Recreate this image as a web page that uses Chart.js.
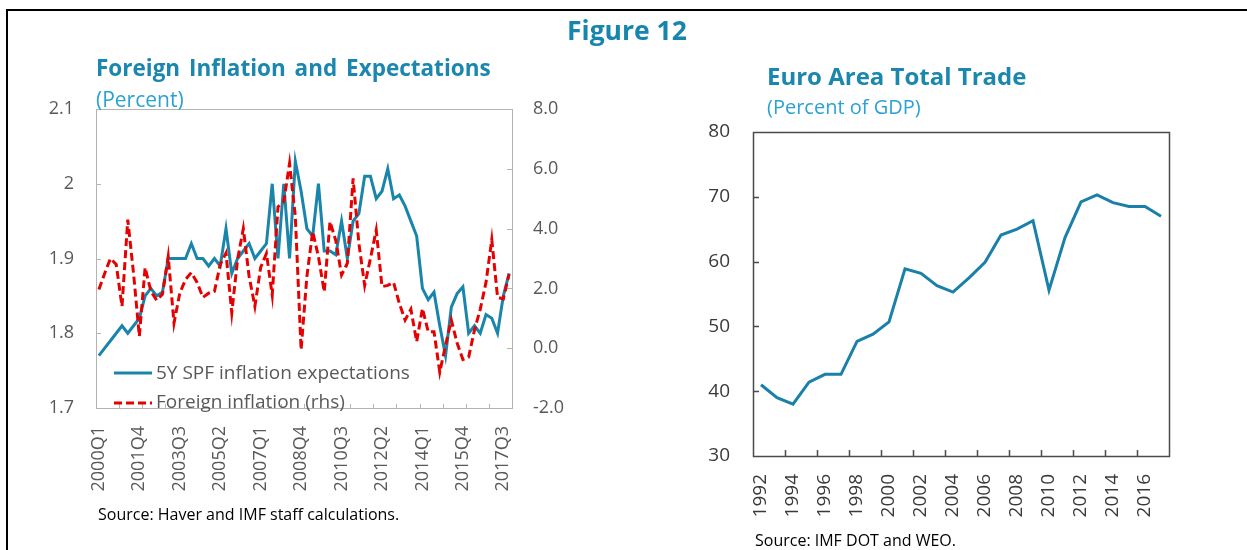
<!DOCTYPE html>
<html>
<head>
<meta charset="utf-8">
<script src="https://cdn.jsdelivr.net/npm/chart.js@4.4.1/dist/chart.umd.min.js"></script>
<style>
  body { margin: 0; background: #fff; font-family: "Open Sans", sans-serif; }
  #page { position: relative; width: 1247px; height: 550px; overflow: hidden; }
  #frame { position: absolute; left: 6px; top: 9px; width: 1250px; height: 560px;
           border-top: 2px solid #000; border-left: 2px solid #000; }
  canvas { position: absolute; top: 0; }
  .t { position: absolute; white-space: nowrap; line-height: 1; }
</style>
</head>
<body>
<div id="page">
  <div id="frame"></div>
  <canvas id="infl" width="620" height="550" style="left:0"></canvas>
  <canvas id="trade" width="627" height="550" style="left:620px"></canvas>

  <div class="t" style="left:567px;top:17px;font-size:26.5px;font-weight:700;color:#1786ad">Figure 12</div>
  <div class="t" style="left:96px;top:57px;font-size:22.5px;font-weight:700;color:#1b87ae;word-spacing:3px">Foreign Inflation and Expectations</div>
  <div class="t" style="left:96px;top:89px;font-size:21px;color:#2ba2d4">(Percent)</div>
  <div class="t" style="left:767px;top:64px;font-size:24px;font-weight:700;color:#1b87ae">Euro Area Total Trade</div>
  <div class="t" style="left:767px;top:97px;font-size:20px;color:#2ba2d4">(Percent of GDP)</div>

  <svg class="t" style="left:112px;top:360px" width="42" height="50">
    <line x1="2" y1="13" x2="40" y2="13" stroke="#1985ab" stroke-width="3"/>
    <line x1="2" y1="43" x2="40" y2="43" stroke="#e60000" stroke-width="3" stroke-dasharray="8,4"/>
  </svg>
  <div class="t" style="left:156px;top:363px;font-size:19px;color:#595959">5Y SPF inflation expectations</div>
  <div class="t" style="left:156px;top:392px;font-size:19px;color:#595959">Foreign inflation (rhs)</div>

  <div class="t" style="left:98px;top:506px;font-size:16px;color:#000">Source: Haver and IMF staff calculations.</div>
  <div class="t" style="left:755px;top:532px;font-size:16px;color:#000">Source: IMF DOT and WEO.</div>
</div>

<script>
// left panel: quarterly, 2000Q1 - 2017Q4
const quarters = [];
for (let y = 2000; y <= 2017; y++) {
  for (let q = 1; q <= 4; q++) quarters.push(y + 'Q' + q);
}
const spfExpect = [
  1.77, 1.78, 1.79, 1.80, 1.81, 1.80, 1.81, 1.82, 1.85, 1.86, 1.85, 1.855,
  1.90, 1.90, 1.90, 1.90, 1.92, 1.90, 1.90, 1.89, 1.90, 1.89, 1.94, 1.88,
  1.90, 1.91, 1.92, 1.90, 1.91, 1.92, 2.00, 1.90, 2.00, 1.90, 2.03, 1.99,
  1.94, 1.93, 2.00, 1.91, 1.91, 1.905, 1.95, 1.90, 1.95, 1.96, 2.01, 2.01,
  1.98, 1.99, 2.02, 1.98, 1.985, 1.97, 1.95, 1.93, 1.86, 1.845, 1.855, 1.81,
  1.77, 1.835, 1.853, 1.862, 1.80, 1.81, 1.80, 1.825, 1.82, 1.80, 1.85, 1.88
];
const foreignInfl = [
  1.96, 2.5, 3.0, 2.8, 1.4, 4.3, 2.5, 0.4, 2.7, 1.9, 1.6, 1.8,
  3.07, 0.84, 1.84, 2.3, 2.53, 2.2, 1.7, 1.84, 1.9, 2.8, 3.18, 1.18,
  2.96, 4.0, 2.4, 1.4, 2.7, 3.17, 1.78, 4.73, 4.9, 6.18, 4.4, -0.05,
  2.4, 3.9, 3.06, 1.89, 4.23, 3.6, 2.45, 2.84, 5.68, 3.5, 2.1, 3.0,
  3.95, 2.06, 2.1, 2.2, 1.5, 0.94, 1.3, 0.22, 1.33, 0.55, 0.55, -0.8,
  0.1, 0.94, 0.17, -0.38, -0.3, 0.6, 1.3, 2.2, 3.63, 1.7, 1.65, 2.48
];

// right panel: annual
const years = ['1992', '1993', '1994', '1995', '1996', '1997', '1998', '1999', '2000',
  '2001', '2002', '2003', '2004', '2005', '2006', '2007', '2008', '2009', '2010',
  '2011', '2012', '2013', '2014', '2015', '2016', '2017'];
const tradeShare = [41.0, 39.0, 38.0, 41.4, 42.6, 42.6, 47.7, 48.8, 50.7, 58.9, 58.2,
  56.3, 55.3, 57.5, 59.9, 64.1, 65.0, 66.3, 55.6, 63.7, 69.2, 70.3, 69.1, 68.5, 68.5, 67.0];

// plot box plus short tick marks pointing into the plot
const boxTicks = {
  id: 'boxTicks',
  beforeDatasetsDraw(chart, args, opts) {
    const ctx = chart.ctx, a = chart.chartArea;
    ctx.save();
    ctx.strokeStyle = opts.color;
    ctx.lineWidth = opts.width;
    ctx.strokeRect(Math.round(a.left) + 0.5, Math.round(a.top) + 0.5,
      Math.round(a.right - a.left), Math.round(a.bottom - a.top));
    ctx.beginPath();
    opts.marks.forEach(m => {
      const s = chart.scales[m.scale];
      m.at.forEach(v => {
        if (m.scale === 'x') {
          const px = Math.round((s.getPixelForValue(v - 1) + s.getPixelForValue(v)) / 2) + 0.5;
          ctx.moveTo(px, a.bottom);
          ctx.lineTo(px, a.bottom - m.len);
        } else {
          const py = Math.round(s.getPixelForValue(v)) + 0.5;
          const x0 = m.side === 'right' ? a.right : a.left;
          ctx.moveTo(x0, py);
          ctx.lineTo(x0 + (m.side === 'right' ? -m.len : m.len), py);
        }
      });
    });
    ctx.stroke();
    ctx.restore();
  }
};

const yearStarts = [];
quarters.forEach((q, i) => { if (i > 0 && q.endsWith('Q1')) yearStarts.push(i); });

new Chart(document.getElementById('infl'), {
  type: 'line',
  data: {
    labels: quarters,
    datasets: [
      { label: '5Y SPF inflation expectations', data: spfExpect, yAxisID: 'y',
        borderColor: '#1985ab', borderWidth: 3, order: 1 },
      { label: 'Foreign inflation (rhs)', data: foreignInfl, yAxisID: 'y1',
        borderColor: '#e60000', borderWidth: 3, borderDash: [8, 4], order: 0 }
    ]
  },
  options: {
    responsive: false,
    animation: false,
    layout: { padding: { top: 109, left: 0, right: 0, bottom: 0 } },
    elements: { point: { radius: 0 }, line: { tension: 0 } },
    plugins: {
      legend: { display: false },
      tooltip: { enabled: false },
      boxTicks: {
        color: '#b4b4b4', width: 1,
        marks: [
          { scale: 'x', at: yearStarts, len: 4 },
          { scale: 'y', at: [1.8, 1.9, 2.0], len: 5, side: 'left' },
          { scale: 'y1', at: [0, 2, 4, 6], len: 5, side: 'right' }
        ]
      }
    },
    scales: {
      x: {
        offset: true,
        grid: { display: false },
        border: { display: false },
        ticks: {
          autoSkip: false, minRotation: 90, maxRotation: 90, padding: 10,
          color: '#595959', font: { family: 'Open Sans', size: 18 },
          callback: (v, i) => (i % 7 === 0 ? quarters[i] : '')
        },
        afterFit: s => { s.height = 142; }
      },
      y: {
        position: 'left', min: 1.7, max: 2.1,
        grid: { display: false },
        border: { display: false },
        ticks: {
          stepSize: 0.1, padding: 14, color: '#595959',
          font: { family: 'Open Sans', size: 18 },
          callback: v => String(Math.round(v * 10) / 10)
        },
        afterFit: s => { s.width = 96; }
      },
      y1: {
        position: 'right', min: -2, max: 8,
        grid: { display: false },
        border: { display: false },
        ticks: {
          stepSize: 2, padding: 13, color: '#595959',
          font: { family: 'Open Sans', size: 18 },
          callback: v => v.toFixed(1)
        },
        afterFit: s => { s.width = 108; }
      }
    }
  },
  plugins: [boxTicks]
});

new Chart(document.getElementById('trade'), {
  type: 'line',
  data: {
    labels: years,
    datasets: [
      { label: 'Euro area total trade', data: tradeShare,
        borderColor: '#1a80a9', borderWidth: 3 }
    ]
  },
  options: {
    responsive: false,
    animation: false,
    layout: { padding: { top: 132, left: 0, right: 78, bottom: 0 } },
    elements: { point: { radius: 0 }, line: { tension: 0 } },
    plugins: {
      legend: { display: false },
      tooltip: { enabled: false },
      boxTicks: {
        color: '#4a4a4a', width: 1.5,
        marks: [
          { scale: 'x', at: [2, 4, 6, 8, 10, 12, 14, 16, 18, 20, 22, 24], len: 6 },
          { scale: 'y', at: [40, 50, 60, 70], len: 6, side: 'left' }
        ]
      }
    },
    scales: {
      x: {
        offset: true,
        grid: { display: false },
        border: { display: false },
        ticks: {
          autoSkip: false, minRotation: 90, maxRotation: 90, padding: 10,
          color: '#3a3a3a', font: { family: 'Open Sans', size: 19 },
          callback: (v, i) => (i % 2 === 0 ? years[i] : '')
        },
        afterFit: s => { s.height = 94; }
      },
      y: {
        min: 30, max: 80,
        grid: { display: false },
        border: { display: false },
        ticks: {
          stepSize: 10, padding: 15, color: '#3a3a3a',
          font: { family: 'Open Sans', size: 19 }
        },
        afterFit: s => { s.width = 133; }
      }
    }
  },
  plugins: [boxTicks]
});
</script>
</body>
</html>
